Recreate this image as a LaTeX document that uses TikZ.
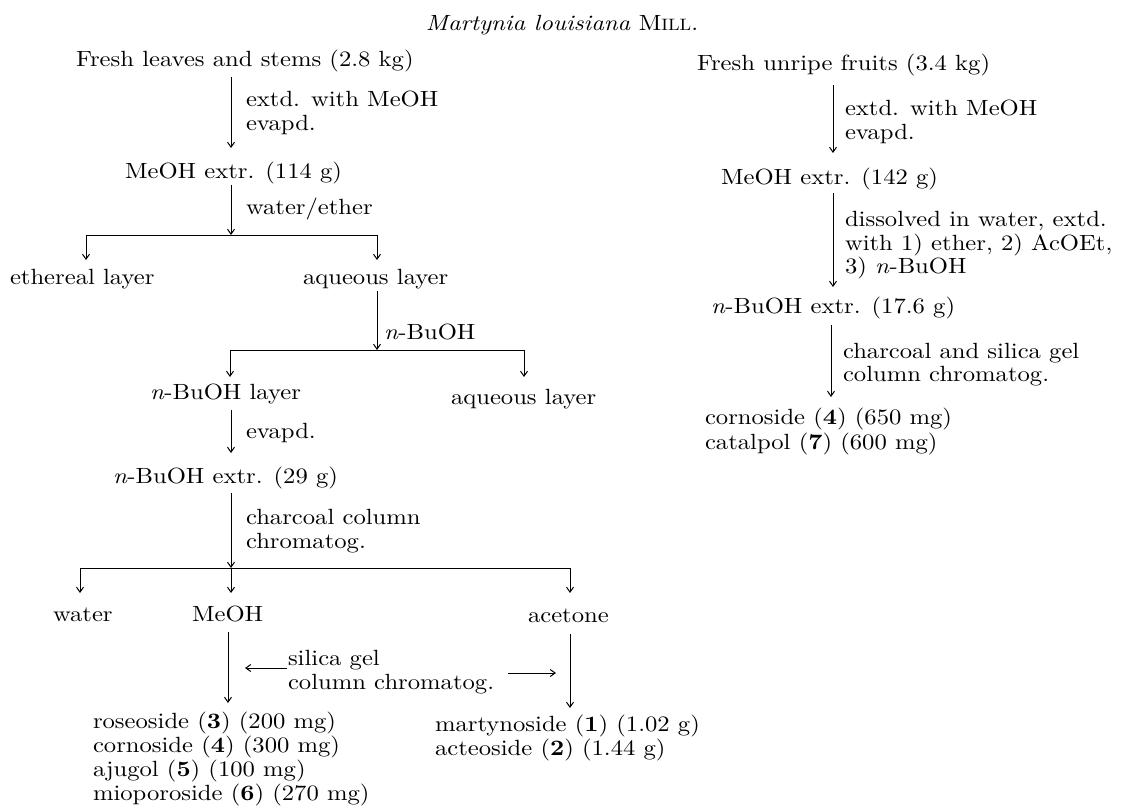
\documentclass[tikz,border=0pt]{standalone}
\usepackage{fontspec}
\setmainfont{lmroman10}[Extension=.otf, UprightFont=*-regular, BoldFont=*-bold, ItalicFont=*-italic, BoldItalicFont=*-bolditalic, FakeStretch=1.12]
\usetikzlibrary{arrows.meta}
\newcommand\mysmcaps[1]{{\fontsize{16.5}{18}\selectfont #1}}
\newcommand\nb{\textit{n}}
\begin{document}
\begin{tikzpicture}[x=1pt,y=-1pt,
  txt/.style={anchor=base west, inner sep=0pt, outer sep=0pt, font=\fontsize{22}{24}\selectfont},
  arr/.style={line width=1pt, -{Straight Barb[length=5pt,width=7pt]}},
  bar/.style={line width=1pt}]
\fill[white] (0,0) rectangle (1122,809);
\useasboundingbox (0,0) rectangle (1122,809);
% title
\node[txt, anchor=base] (T) at (562,30) {\textit{Martynia louisiana} M\mysmcaps{ILL}.};
% left column
\node[txt] (A) at (76,66) {Fresh leaves and stems (2.8 kg)};
\node[txt] (lA1) at (246,106) {extd. with MeOH};
\node[txt] (lA2) at (246,130) {evapd.};
\node[txt] (B) at (125,178) {MeOH extr. (114 g)};
\node[txt] (lB) at (246,214) {water/ether};
\node[txt] (C1) at (10,284) {ethereal layer};
\node[txt] (C2) at (303,284) {aqueous layer};
\node[txt] (lC) at (384,339) {\nb-BuOH};
\node[txt] (D1) at (150,399) {\nb-BuOH layer};
\node[txt] (D2) at (451,404) {aqueous layer};
\node[txt] (lD) at (246,438) {evapd.};
\node[txt] (E) at (113,483) {\nb-BuOH extr. (29 g)};
\node[txt] (lE1) at (246,524) {charcoal column};
\node[txt] (lE2) at (246,548) {chromatog.};
\node[txt] (F1) at (53,621) {water};
\node[txt] (F2) at (192,621) {MeOH};
\node[txt] (F3) at (528,622) {acetone};
\node[txt] (S1) at (288,665) {silica gel};
\node[txt] (S2) at (288,689) {column chromatog.};
\node[txt] (G1) at (93,728) {roseoside (\textbf{3}) (200 mg)};
\node[txt] (G2) at (93,752) {cornoside (\textbf{4}) (300 mg)};
\node[txt] (G3) at (93,776) {ajugol (\textbf{5}) (100 mg)};
\node[txt] (G4) at (93,800) {mioporoside (\textbf{6}) (270 mg)};
\node[txt] (H1) at (435,731) {martynoside (\textbf{1}) (1.02 g)};
\node[txt] (H2) at (435,755) {acteoside (\textbf{2}) (1.44 g)};
% right column
\node[txt] (RA) at (697,70) {Fresh unripe fruits (3.4 kg)};
\node[txt] (lRA1) at (845,115) {extd. with MeOH};
\node[txt] (lRA2) at (845,139) {evapd.};
\node[txt] (RB) at (721,184) {MeOH extr. (142 g)};
\node[txt] (lRB1) at (845,226) {dissolved in water, extd.};
\node[txt] (lRB2) at (845,250) {with 1) ether, 2) AcOEt,};
\node[txt] (lRB3) at (845,273) {3) \nb-BuOH};
\node[txt] (RC) at (711,313) {\nb-BuOH extr. (17.6 g)};
\node[txt] (lRC1) at (843,358) {charcoal and silica gel};
\node[txt] (lRC2) at (843,381) {column chromatog.};
\node[txt] (RD1) at (705,424) {cornoside (\textbf{4}) (650 mg)};
\node[txt] (RD2) at (705,449) {catalpol (\textbf{7}) (600 mg)};
% connector coordinates
\coordinate (a1s) at (231,77);  \coordinate (a1e) at (231,148);
\coordinate (a2s) at (231,185); \coordinate (j1) at (231,235);
\coordinate (j1l) at (86,235);  \coordinate (j1r) at (377,235);
\coordinate (c1t) at (86,260);  \coordinate (c2t) at (377,260);
\coordinate (a3s) at (377,291); \coordinate (j2) at (377,350);
\coordinate (j2l) at (230,350); \coordinate (j2r) at (524,350);
\coordinate (d1t) at (230,377); \coordinate (d2t) at (524,377);
\coordinate (a4s) at (231,410); \coordinate (a4e) at (231,453);
\coordinate (a5s) at (231,493); \coordinate (j3) at (231,568);
\coordinate (j3l) at (80,568);  \coordinate (j3r) at (570,568);
\coordinate (f1t) at (80,593);  \coordinate (f2t) at (231,593); \coordinate (f3t) at (570,593);
\coordinate (a6s) at (228,632); \coordinate (a6e) at (228,703);
\coordinate (a7s) at (570,634); \coordinate (a7e) at (570,708);
\coordinate (sls) at (287,668); \coordinate (sle) at (245,668);
\coordinate (srs) at (508,673); \coordinate (sre) at (556,673);
\coordinate (r1s) at (833,85);  \coordinate (r1e) at (833,153);
\coordinate (r2s) at (833,193); \coordinate (r2e) at (833,287);
\coordinate (r3s) at (831,325); \coordinate (r3e) at (831,397);
% connectors
\draw[arr] (a1s) -- (a1e);
\draw[arr] (a2s) -- (j1);
\draw[bar] (j1l) -- (j1r);
\draw[arr] (j1l) -- (c1t);
\draw[arr] (j1r) -- (c2t);
\draw[arr] (a3s) -- (j2);
\draw[bar] (j2l) -- (j2r);
\draw[arr] (j2l) -- (d1t);
\draw[arr] (j2r) -- (d2t);
\draw[arr] (a4s) -- (a4e);
\draw[arr] (a5s) -- (j3);
\draw[bar] (j3l) -- (j3r);
\draw[arr] (j3l) -- (f1t);
\draw[arr] (j3) -- (f2t);
\draw[arr] (j3r) -- (f3t);
\draw[arr] (a6s) -- (a6e);
\draw[arr] (a7s) -- (a7e);
\draw[arr] (sls) -- (sle);
\draw[arr] (srs) -- (sre);
\draw[arr] (r1s) -- (r1e);
\draw[arr] (r2s) -- (r2e);
\draw[arr] (r3s) -- (r3e);
\end{tikzpicture}
\end{document}
